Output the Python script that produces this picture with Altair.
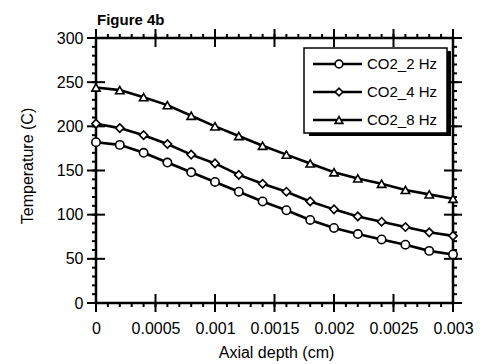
import altair as alt
import pandas as pd

# ---- data ----
depth = [0, 0.0002, 0.0004, 0.0006, 0.0008, 0.0010, 0.0012, 0.0014,
         0.0016, 0.0018, 0.0020, 0.0022, 0.0024, 0.0026, 0.0028, 0.0030]
t_2hz = [182, 179, 170, 159, 148, 137, 126, 115, 105, 94, 85, 78, 72, 66, 59, 55]
t_4hz = [203, 198, 190, 180, 168, 158, 145, 135, 126, 115, 106, 98, 92, 86, 80, 76]
t_8hz = [244, 241, 233, 224, 212, 200, 189, 178, 168, 158, 148, 141, 135, 128, 123, 118]
series_names = ["CO2_2 Hz", "CO2_4 Hz", "CO2_8 Hz"]
shapes = ["circle", "diamond", "triangle-up"]

x_major = [0, 0.0005, 0.001, 0.0015, 0.002, 0.0025, 0.003]
x_minor = [round(i * 0.0001, 4) for i in range(31)]
y_major = [0, 50, 100, 150, 200, 250, 300]
y_minor = [i * 10 for i in range(31)]

W, H = 357, 265
FONT = "Liberation Sans"

rows = []
for name, vals in zip(series_names, [t_2hz, t_4hz, t_8hz]):
    for d, t in zip(depth, vals):
        rows.append({"depth": d, "temp": t, "series": name})
df = pd.DataFrame(rows)

xscale = alt.Scale(domain=[0, 0.003], nice=False, zero=False)
yscale = alt.Scale(domain=[0, 300], nice=False)
shape_scale = alt.Scale(domain=series_names, range=shapes)

x_axis = alt.Axis(values=x_major, ticks=False, domain=False, grid=False,
                  labelFlush=False, labelPadding=17, labelFontSize=16,
                  labelFont=FONT, labelColor="black",
                  labelExpr="datum.value == 0 ? '0' : format(datum.value, '.4~f')")
y_axis = alt.Axis(values=y_major, ticks=False, domain=False, grid=False,
                  labelPadding=13, labelFontSize=16, labelFont=FONT,
                  labelColor="black")


def X(field):
    return alt.X(field, scale=xscale, axis=x_axis, title=None)


def Y(field):
    return alt.Y(field, scale=yscale, axis=y_axis, title=None)


one = alt.Data(values=[{"a": 1}])

frame = alt.Chart(one).mark_rect(fill=None, stroke="black", strokeWidth=2.5).encode(
    x=alt.value(0), x2=alt.value(W), y=alt.value(0), y2=alt.value(H)
)


def xticks(vals, y1, y2):
    return alt.Chart(pd.DataFrame({"v": vals})).mark_rule(color="black", strokeWidth=2).encode(
        x=X("v:Q"), y=alt.value(y1), y2=alt.value(y2)
    )


def yticks(vals, x1, x2):
    return alt.Chart(pd.DataFrame({"v": vals})).mark_rule(color="black", strokeWidth=2).encode(
        y=Y("v:Q"), x=alt.value(x1), x2=alt.value(x2)
    )


ticks = [
    xticks(x_minor, H, H + 4), xticks(x_minor, -4, 0),
    xticks(x_major, H - 9, H + 9), xticks(x_major, -9, 9),
    yticks(y_minor, -4, 0), yticks(y_minor, W, W + 4),
    yticks(y_major, -9, 9), yticks(y_major, W - 9, W + 9),
]

base = alt.Chart(df)
lines = base.mark_line(color="black", strokeWidth=2.6).encode(
    x=X("depth:Q"), y=Y("temp:Q"), detail="series:N",
)
points = base.mark_point(filled=True, fill="white", stroke="black", strokeWidth=1.6,
                         opacity=1, size=70).encode(
    x=X("depth:Q"), y=Y("temp:Q"),
    shape=alt.Shape("series:N", scale=shape_scale, legend=None),
)

# ---- legend ----
leg_df = pd.DataFrame({"series": series_names})
leg_y = alt.Y("series:N", scale=alt.Scale(type="point", domain=series_names,
                                          range=[26, 82], padding=0), axis=None)
shadow = alt.Chart(one).mark_rect(fill="black").encode(
    x=alt.value(213), x2=alt.value(355), y=alt.value(13), y2=alt.value(98))
box = alt.Chart(one).mark_rect(fill="white", stroke="black", strokeWidth=1.5).encode(
    x=alt.value(208), x2=alt.value(351), y=alt.value(10), y2=alt.value(95))
leg_line = alt.Chart(leg_df).mark_rule(color="black", strokeWidth=2.6).encode(
    x=alt.value(217), x2=alt.value(266), y=leg_y)
leg_pt = alt.Chart(leg_df).mark_point(filled=True, fill="white", stroke="black",
                                      strokeWidth=1.6, opacity=1, size=60).encode(
    x=alt.value(243), y=leg_y,
    shape=alt.Shape("series:N", scale=shape_scale, legend=None))
leg_txt = alt.Chart(leg_df).mark_text(align="left", baseline="middle", fontSize=15,
                                      font=FONT, color="black").encode(
    x=alt.value(271), y=leg_y, text="series:N")

# ---- titles ----
title = alt.Chart(one).mark_text(text="Figure 4b", align="left", baseline="alphabetic",
                                 fontSize=15, fontWeight="bold", font=FONT, color="black").encode(
    x=alt.value(1), y=alt.value(-13))
xtitle = alt.Chart(one).mark_text(text="Axial depth (cm)", align="center", baseline="alphabetic",
                                  fontSize=16, font=FONT, color="black").encode(
    x=alt.value(W / 2 + 2), y=alt.value(320))
ytitle = alt.Chart(one).mark_text(text="Temperature (C)", align="center", baseline="alphabetic",
                                  angle=270, fontSize=16, font=FONT, color="black").encode(
    x=alt.value(-63), y=alt.value(128))

data_layer = alt.layer(frame, *ticks, lines, points)
legend_layer = alt.layer(shadow, box, leg_line, leg_pt, leg_txt)

chart = alt.layer(data_layer, legend_layer, title, xtitle, ytitle).resolve_scale(
    y="independent"
).properties(
    width=W, height=H,
    autosize=alt.AutoSizeParams(type="none"),
    padding={"left": 96, "top": 38, "right": 30, "bottom": 61},
    background="white",
).configure_view(stroke=None)

chart.save("out.html", embed_options={"renderer": "svg", "actions": False})
